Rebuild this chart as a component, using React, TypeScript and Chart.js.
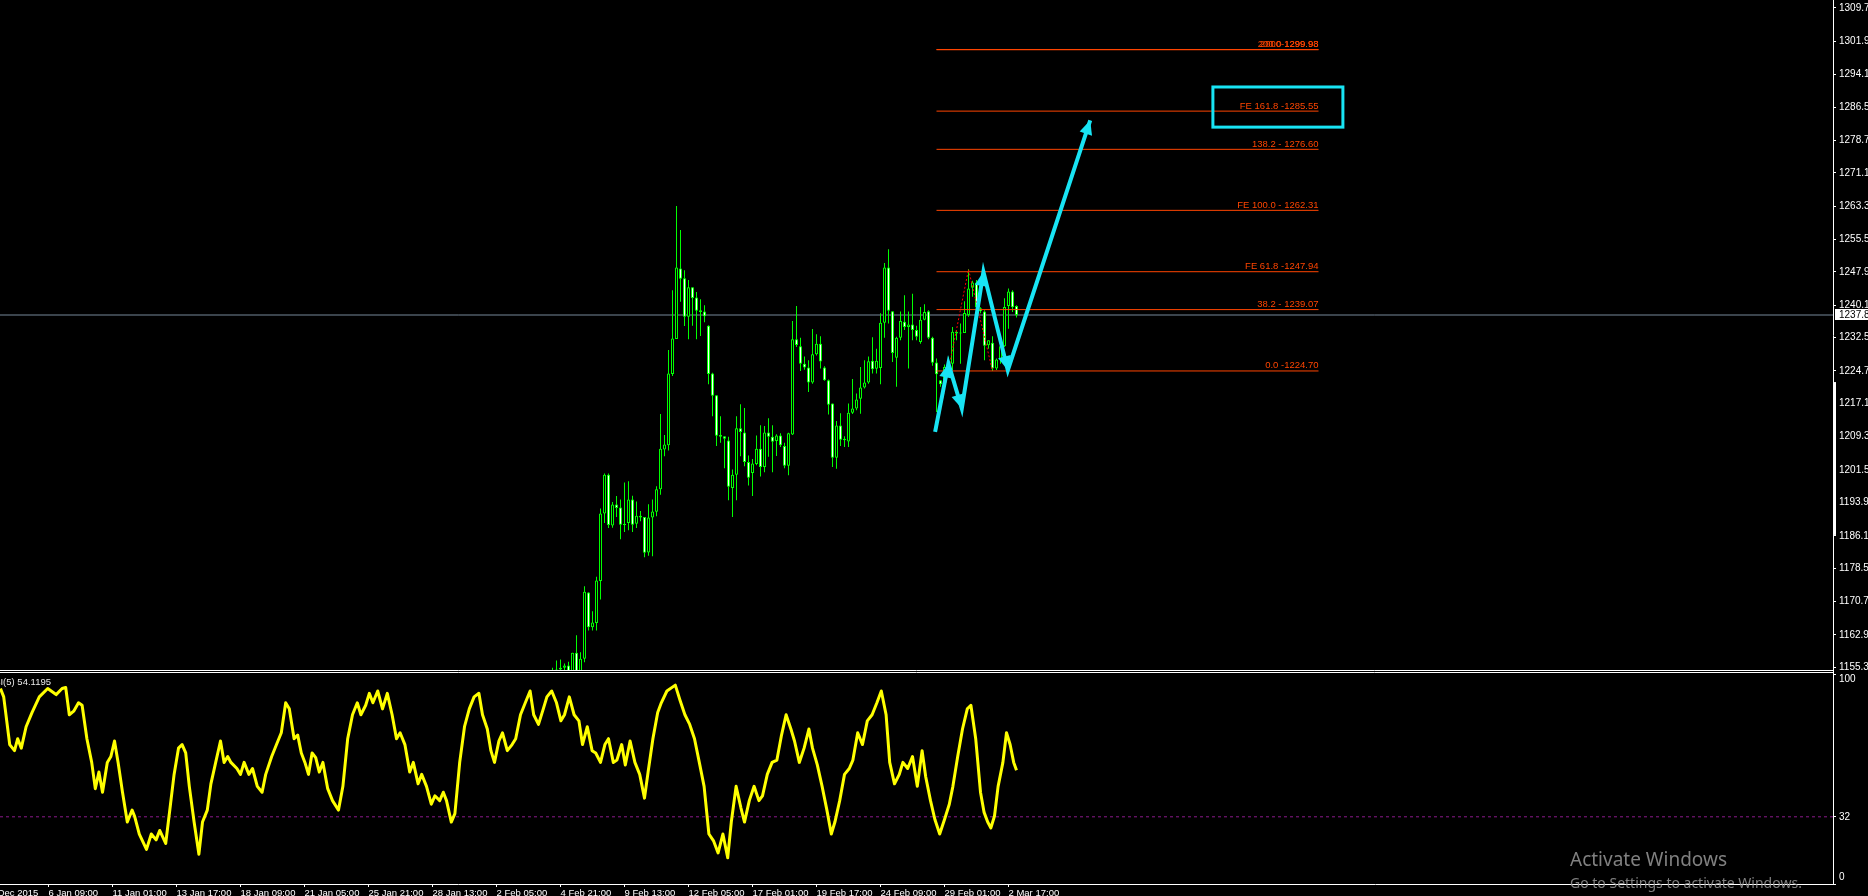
import React, { useEffect, useRef } from 'react';
import { Chart, registerables } from 'chart.js';

Chart.register(...registerables);

// ---------- price candles (H4), first visible bar index ----------
const FIRST_CANDLE_BAR = 138;
const candleOpen = [
  1152.0, 1153.0, 1154.8, 1155.2, 1155.7, 1153.8, 1158.7, 1154.0, 1157.3, 1172.8,
  1164.7, 1165.7, 1175.5, 1191.3, 1200.4, 1188.5, 1193.4, 1192.7, 1188.9, 1189.1,
  1194.6, 1188.9, 1190.8, 1190.5, 1182.2, 1190.4, 1191.7, 1197.0, 1206.3, 1207.3,
  1224.0, 1232.2, 1248.7, 1246.4, 1237.4, 1244.3, 1241.9, 1238.9, 1238.6, 1235.3,
  1224.1, 1219.0, 1209.3, 1209.4, 1208.4, 1197.3, 1200.4, 1211.3, 1210.3, 1203.4,
  1200.8, 1202.9, 1206.5, 1202.2, 1210.3, 1209.3, 1208.3, 1209.6, 1207.1, 1202.5,
  1209.8, 1232.1, 1230.5, 1226.4, 1225.5, 1222.0, 1228.6, 1231.1, 1225.5, 1222.5,
  1217.1, 1204.4, 1211.9, 1208.8, 1208.2, 1214.9, 1215.9, 1218.2, 1220.8, 1222.0,
  1227.1, 1225.2, 1225.4, 1236.0, 1248.9, 1238.7, 1227.8, 1232.5, 1236.2, 1235.0,
  1235.6, 1234.3, 1231.5, 1236.7, 1238.7, 1232.5, 1226.7, 1222.5, 1222.5, 1225.6,
  1226.4, 1233.9, 1233.5, 1233.6, 1237.8, 1244.2, 1245.4, 1239.4, 1238.6, 1230.7,
  1231.3, 1225.3, 1227.4, 1230.5, 1239.9, 1243.3, 1239.9,
];
const candleHigh = [
  1155.2, 1156.9, 1157.1, 1156.2, 1156.6, 1158.7, 1162.8, 1158.8, 1174.3, 1172.9,
  1168.4, 1176.5, 1192.5, 1200.7, 1200.7, 1194.0, 1195.4, 1194.6, 1198.6, 1198.9,
  1195.5, 1194.1, 1191.9, 1190.5, 1193.5, 1194.6, 1197.7, 1214.6, 1209.7, 1229.6,
  1243.6, 1263.3, 1257.7, 1248.3, 1246.0, 1244.3, 1243.2, 1241.5, 1240.1, 1235.4,
  1224.3, 1219.0, 1214.1, 1209.4, 1209.3, 1201.6, 1214.1, 1216.9, 1216.0, 1204.9,
  1204.1, 1209.6, 1212.0, 1211.8, 1213.6, 1212.0, 1209.9, 1210.1, 1207.9, 1210.2,
  1236.4, 1239.9, 1232.5, 1228.1, 1227.2, 1234.5, 1233.3, 1232.8, 1225.8, 1222.7,
  1217.1, 1213.0, 1214.8, 1209.4, 1217.1, 1222.8, 1219.4, 1225.6, 1227.2, 1228.1,
  1232.6, 1229.9, 1238.2, 1250.0, 1253.2, 1238.7, 1232.7, 1238.6, 1242.4, 1238.6,
  1242.8, 1235.3, 1239.7, 1240.3, 1238.9, 1232.7, 1227.6, 1222.5, 1226.2, 1228.0,
  1235.0, 1234.3, 1235.8, 1241.0, 1248.5, 1245.8, 1246.0, 1239.6, 1238.9, 1231.9,
  1232.8, 1227.6, 1230.7, 1241.7, 1244.0, 1243.6, 1240.1,
];
const candleLow = [
  1149.0, 1151.0, 1152.5, 1153.0, 1153.5, 1152.5, 1152.0, 1153.0, 1156.5, 1163.9,
  1163.9, 1163.9, 1171.2, 1189.1, 1187.9, 1188.0, 1190.5, 1185.3, 1187.0, 1187.4,
  1187.0, 1187.9, 1189.5, 1181.1, 1181.4, 1181.3, 1190.7, 1195.7, 1204.7, 1206.1,
  1223.5, 1232.2, 1240.9, 1235.2, 1232.1, 1235.3, 1232.1, 1232.9, 1236.1, 1221.6,
  1214.1, 1207.1, 1207.9, 1201.9, 1194.4, 1190.5, 1194.4, 1204.7, 1202.4, 1197.9,
  1195.4, 1202.6, 1200.0, 1201.0, 1204.6, 1201.0, 1204.8, 1206.9, 1201.9, 1200.3,
  1209.7, 1230.3, 1224.7, 1225.0, 1219.8, 1221.7, 1228.3, 1225.3, 1222.4, 1214.5,
  1202.2, 1201.8, 1207.1, 1206.9, 1206.9, 1214.6, 1215.5, 1214.7, 1220.6, 1221.7,
  1224.1, 1224.1, 1221.6, 1232.5, 1235.8, 1226.8, 1221.0, 1231.9, 1234.3, 1225.3,
  1231.9, 1231.9, 1231.1, 1236.6, 1232.1, 1225.9, 1215.1, 1221.0, 1221.7, 1224.0,
  1224.9, 1231.9, 1226.4, 1233.6, 1237.4, 1242.1, 1238.9, 1238.2, 1227.2, 1229.9,
  1224.7, 1224.9, 1226.4, 1230.3, 1234.6, 1238.5, 1237.2,
];
const candleClose = [
  1153.0, 1154.8, 1155.2, 1155.7, 1154.0, 1158.7, 1154.0, 1157.3, 1173.0, 1164.7,
  1165.8, 1175.6, 1191.3, 1200.4, 1188.6, 1193.4, 1192.6, 1188.7, 1188.6, 1194.6,
  1188.7, 1190.8, 1190.4, 1182.1, 1190.4, 1191.8, 1197.0, 1206.5, 1207.5, 1224.1,
  1232.3, 1248.9, 1246.3, 1237.4, 1244.3, 1241.8, 1238.8, 1238.5, 1237.5, 1224.0,
  1218.9, 1209.5, 1209.7, 1208.8, 1197.6, 1200.4, 1211.3, 1210.4, 1203.4, 1199.7,
  1203.0, 1206.5, 1202.2, 1210.3, 1209.3, 1208.1, 1209.6, 1207.3, 1202.5, 1210.1,
  1232.1, 1230.8, 1226.4, 1225.5, 1222.0, 1228.6, 1231.1, 1226.9, 1222.5, 1216.8,
  1204.4, 1211.9, 1208.6, 1208.5, 1214.9, 1215.9, 1218.0, 1220.8, 1222.0, 1227.0,
  1225.1, 1227.1, 1236.0, 1248.9, 1238.8, 1228.9, 1232.5, 1236.4, 1235.0, 1235.6,
  1234.3, 1232.7, 1236.7, 1238.5, 1232.5, 1226.6, 1223.9, 1221.6, 1225.6, 1226.0,
  1233.9, 1233.5, 1233.6, 1238.3, 1244.0, 1245.4, 1239.6, 1238.7, 1230.6, 1231.9,
  1225.3, 1227.4, 1230.5, 1239.7, 1243.3, 1239.6, 1237.8,
];

// ---------- price axis ----------
const priceTicks = [
  1309.7, 1301.9, 1294.1, 1286.5, 1278.7, 1271.1, 1263.3, 1255.5, 1247.9, 1240.1, 1232.5,
  1224.7, 1217.1, 1209.3, 1201.5, 1193.9, 1186.1, 1178.5, 1170.7, 1162.9, 1155.3,
];
const PRICE_MIN = 1154.67;
const PRICE_MAX = 1311.57;
const currentPrice = 1237.8;
const axisMarkRange = [1186.3, 1222.1];

// ---------- time axis ----------
const BAR_MIN = -0.125;
const BAR_MAX = 458.125;
const timeTickBars = [-4, 12, 28, 44, 60, 76, 92, 108, 124, 140, 156, 172, 188, 204, 220, 236, 252];
const timeTickLabels = [
  '31 Dec 2015', '6 Jan 09:00', '11 Jan 01:00', '13 Jan 17:00', '18 Jan 09:00', '21 Jan 05:00',
  '25 Jan 21:00', '28 Jan 13:00', '2 Feb 05:00', '4 Feb 21:00', '9 Feb 13:00', '12 Feb 05:00',
  '17 Feb 01:00', '19 Feb 17:00', '24 Feb 09:00', '29 Feb 01:00', '2 Mar 17:00',
];

const rsiBars = [
  0, 0.8, 2.3, 3.5, 4.3, 5.2, 6.4, 7.9, 9.7, 11.8, 13.9, 15.4, 16.3, 17.2, 18.3, 19.5, 20.4,
  21.6, 22.8, 23.7, 24.6, 25.5, 26.7, 27.6, 28.5, 29.4, 30.5, 31.7, 32.9, 33.5, 34.7, 36.5,
  37.7, 38.9, 39.8, 41.3, 42.5, 43.4, 44.5, 45.4, 46.3, 47.2, 48.4, 49.6, 50.5, 51.7, 52.6,
  53.8, 55, 55.9, 56.8, 57.6, 59.1, 60, 60.9, 62.1, 63, 64.2, 65.4, 66.3, 67.8, 69, 70.2,
  71.3, 72.2, 73.4, 74.3, 75.2, 76.1, 77, 77.9, 78.8, 79.7, 80.6, 81.8, 83, 84.5, 85.6, 86.8,
  88, 89.2, 90.1, 91.3, 92.2, 93.1, 94.3, 95.5, 96.7, 97.9, 99, 99.9, 101.1, 102.3, 103.2,
  104.4, 105.3, 106.5, 107.7, 108.6, 109.8, 110.7, 111.5, 112.7, 113.6, 114.8, 116, 117.2,
  118.4, 119.6, 120.5, 121.7, 122.6, 123.5, 124.6, 125.5, 126.7, 127.9, 128.8, 130, 131.2,
  132.4, 133.3, 134.5, 135.7, 136.6, 137.8, 139, 140.1, 141, 142.2, 143.4, 144.6, 145.5,
  146.7, 147.9, 148.8, 150, 151.1, 152, 153.2, 154.1, 155.3, 156.2, 157.4, 158.6, 159.8, 161,
  161.9, 163.1, 164.3, 165.2, 166.6, 168.7, 169.9, 171.1, 172.3, 173.5, 174.7, 175.9, 177.1,
  178.3, 179.4, 180.6, 181.8, 182.7, 183.9, 185.1, 186, 187.2, 188.4, 189.6, 190.5, 191.7,
  192.9, 194.1, 195.2, 196.4, 197.6, 198.5, 199.7, 200.9, 202.1, 203, 204.2, 205.4, 206.6,
  207.7, 208.6, 209.8, 211, 212.2, 213.1, 214.3, 215.5, 216.7, 217.9, 219.1, 220.2, 221.4,
  222.3, 223.5, 224.7, 225.6, 226.8, 228, 229.2, 230.4, 231.3, 232.5, 233.6, 234.8, 236,
  237.2, 238.1, 239.3, 240.5, 241.7, 242.6, 243.8, 245, 245.9, 246.8, 247.6, 248.5, 249.4,
  250.6, 251.5, 252.4, 253.3, 254,
];
const rsiValues = [
  93.1, 89.1, 66.4, 63.5, 69.2, 64.7, 74.9, 81.7, 89.1, 93.1, 90.2, 93.1, 93.6, 80.6, 82.3,
  86.3, 85.1, 69.2, 57.9, 45.4, 53.3, 43.7, 57.9, 60.7, 68.1, 57.9, 43.7, 29.5, 35.2, 32.4,
  23.8, 16.5, 23.8, 21.0, 25.5, 19.3, 38.0, 52.2, 64.7, 66.4, 62.4, 46.5, 29.5, 14.2, 29.5,
  35.2, 47.7, 57.9, 68.1, 57.9, 60.7, 57.9, 55.0, 52.2, 57.9, 52.2, 55.0, 46.5, 43.7, 52.2,
  60.7, 66.4, 72.0, 86.3, 83.4, 69.2, 70.9, 62.4, 57.9, 52.2, 62.4, 60.2, 53.3, 57.9, 45.4,
  39.7, 35.2, 46.5, 69.2, 80.6, 86.3, 80.6, 85.1, 90.8, 86.3, 91.9, 83.4, 90.8, 80.6, 69.2,
  72.0, 66.4, 53.3, 57.9, 47.7, 52.2, 46.5, 38.0, 42.0, 39.7, 43.7, 39.7, 29.5, 33.5, 57.9,
  74.9, 83.4, 89.1, 90.8, 80.6, 73.8, 63.5, 57.9, 68.1, 72.0, 63.5, 66.4, 69.2, 80.6, 86.3,
  91.9, 80.6, 76.0, 83.4, 89.1, 91.9, 86.3, 77.7, 80.6, 89.1, 80.6, 77.7, 66.4, 74.9, 63.5,
  62.4, 57.9, 66.4, 69.2, 57.9, 59.0, 66.4, 56.7, 68.1, 57.9, 52.2, 40.9, 53.3, 69.2, 81.7,
  86.3, 91.9, 94.7, 87.4, 80.6, 76.0, 69.2, 57.9, 46.5, 23.8, 20.4, 14.8, 23.8, 12.5, 29.5,
  46.5, 36.3, 29.5, 39.7, 46.5, 39.7, 42.0, 52.2, 57.9, 59.0, 70.4, 80.6, 73.8, 68.1, 57.9,
  64.7, 73.8, 64.7, 56.7, 46.5, 35.2, 23.8, 29.5, 39.7, 52.2, 55.0, 59.0, 72.0, 66.4, 77.7,
  80.6, 86.3, 91.9, 80.6, 57.9, 47.7, 52.2, 57.9, 55.0, 60.7, 46.5, 63.5, 51.1, 39.7, 30.7,
  23.8, 30.7, 38.0, 46.5, 60.7, 73.8, 83.4, 85.1, 69.2, 43.7, 34.1, 29.5, 26.7, 32.4, 46.5,
  57.9, 72.0, 66.4, 57.9, 54.1195,
];
const rsiLevel = 32;
const rsiTicks = [0, 32, 100];
const rsiTitle = 'RSI(5) 54.1195';

// ---------- Fibonacci expansion ----------
const fibLevels = [1224.70, 1239.07, 1247.94, 1262.31, 1276.60, 1285.55, 1299.92, 1299.98];
const fibLabels = [
  '0.0 -1224.70', '38.2 - 1239.07', 'FE 61.8 -1247.94', 'FE 100.0 - 1262.31',
  '138.2 - 1276.60', 'FE 161.8 -1285.55', '200.0 1299.93', '2000-1299.98',
];
const fibStartBar = 234;
const fibEndBar = 329.5;
const fibBaseBars = [234, 242, 248];
const fibBasePrices = [1210.87, 1248.48, 1224.70];

// ---------- hand-drawn projection arrows and highlight box ----------
const arrowBars = [233.65, 236.98, 240.33, 245.73, 251.83, 272.43];
const arrowPrices = [1210.43, 1226.45, 1215.91, 1247.91, 1224.88, 1283.39];
const boxBars = [303.1, 335.6];
const boxPrices = [1281.8, 1291.2];

const GREEN = '#00FF00';
const FIB_COLOR = '#FF4500';
const CYAN = '#18E4F4';
const FONT = 'Liberation Sans';
const FIB_FONT = `9.5px "${FONT}"`;
const AXIS_FONT = `10px "${FONT}"`;

function mainConfig(): any {
  const wicks = candleHigh.map((h, k) => ({ x: FIRST_CANDLE_BAR + k, y: [candleLow[k], h] }));
  const bodies = candleOpen.map((o, k) => ({ x: FIRST_CANDLE_BAR + k, y: [o, candleClose[k]] }));
  const bodyFill = candleOpen.map((o, k) => (candleClose[k] >= o ? '#000000' : '#FFFFFF'));

  const datasets: any[] = [
    {
      type: 'bar', label: 'wick', data: wicks, backgroundColor: GREEN, borderWidth: 0,
      barThickness: 1, grouped: false, inflateAmount: 0, order: 20,
    },
    {
      type: 'bar', label: 'body', data: bodies, backgroundColor: bodyFill, borderColor: GREEN,
      borderWidth: 1, borderSkipped: false, barThickness: 3, grouped: false, inflateAmount: 0,
      minBarLength: 1, order: 19,
    },
    {
      type: 'line', label: 'price', data: [{ x: BAR_MIN, y: currentPrice }, { x: BAR_MAX, y: currentPrice }],
      borderColor: '#778899', borderWidth: 1, pointRadius: 0, order: 25,
    },
  ];
  fibLevels.forEach((lv, i) => {
    datasets.push({
      type: 'line', label: 'fib' + i, data: [{ x: fibStartBar, y: lv }, { x: fibEndBar, y: lv }],
      borderColor: FIB_COLOR, borderWidth: 1, pointRadius: 0, order: 10,
    });
  });
  datasets.push({
    type: 'line', label: 'fibBase',
    data: fibBaseBars.map((b, i) => ({ x: b, y: fibBasePrices[i] })),
    borderColor: '#FF0000', borderWidth: 1, borderDash: [2, 2], pointRadius: 0, order: 8,
  });
  datasets.push({
    type: 'line', label: 'arrows',
    data: arrowBars.map((b, i) => ({ x: b, y: arrowPrices[i] })),
    borderColor: CYAN, borderWidth: 4, pointRadius: 0, tension: 0, order: 1,
    borderJoinStyle: 'miter', clip: false,
  });

  const decor = {
    id: 'mainDecor',
    afterDatasetsDraw(chart: any) {
      const { ctx, scales } = chart;
      const x = scales.x, y = scales.y;
      ctx.save();
      ctx.font = FIB_FONT;
      ctx.fillStyle = FIB_COLOR;
      ctx.textAlign = 'right';
      ctx.textBaseline = 'alphabetic';
      const xr = x.getPixelForValue(fibEndBar);
      fibLevels.forEach((lv, i) => ctx.fillText(fibLabels[i], xr, y.getPixelForValue(lv) - 2.5));
      const idx = chart.data.datasets.findIndex((d: any) => d.label === 'arrows');
      const pts = chart.getDatasetMeta(idx).data;
      ctx.fillStyle = CYAN;
      for (let j = 1; j < pts.length; j++) {
        const a = pts[j - 1], b = pts[j];
        const ang = Math.atan2(b.y - a.y, b.x - a.x);
        const L = 14, W = 6.5;
        ctx.beginPath();
        ctx.moveTo(b.x, b.y);
        ctx.lineTo(b.x - L * Math.cos(ang) + W * Math.sin(ang), b.y - L * Math.sin(ang) - W * Math.cos(ang));
        ctx.lineTo(b.x - L * Math.cos(ang) - W * Math.sin(ang), b.y - L * Math.sin(ang) + W * Math.cos(ang));
        ctx.closePath();
        ctx.fill();
      }
      ctx.strokeStyle = CYAN;
      ctx.lineWidth = 3;
      const bx0 = x.getPixelForValue(boxBars[0]), bx1 = x.getPixelForValue(boxBars[1]);
      const by0 = y.getPixelForValue(boxPrices[1]), by1 = y.getPixelForValue(boxPrices[0]);
      ctx.strokeRect(bx0, by0, bx1 - bx0, by1 - by0);
      ctx.restore();
    },
    afterDraw(chart: any) {
      const { ctx, scales } = chart;
      const y = scales.y;
      const right = chart.chartArea.right;
      ctx.save();
      const m0 = y.getPixelForValue(axisMarkRange[1]);
      const m1 = y.getPixelForValue(axisMarkRange[0]);
      ctx.fillStyle = '#FFFFFF';
      ctx.fillRect(right, m0, 3, m1 - m0);
      const py = y.getPixelForValue(currentPrice);
      ctx.fillRect(right + 2, Math.round(py) - 6, 40, 11);
      ctx.fillStyle = '#000000';
      ctx.font = AXIS_FONT;
      ctx.textAlign = 'left';
      ctx.textBaseline = 'middle';
      ctx.fillText(currentPrice.toFixed(1), right + 6, py);
      ctx.restore();
    },
  };

  return {
    type: 'bar',
    data: { datasets },
    options: {
      responsive: false,
      maintainAspectRatio: false,
      devicePixelRatio: 1,
      animation: false,
      events: [],
      layout: { padding: 0 },
      plugins: { legend: { display: false }, tooltip: { enabled: false } },
      scales: {
        x: { type: 'linear', display: false, min: BAR_MIN, max: BAR_MAX, offset: false },
        y: {
          type: 'linear', position: 'right', min: PRICE_MIN, max: PRICE_MAX, beginAtZero: false,
          afterBuildTicks: (s: any) => { s.ticks = priceTicks.map((v) => ({ value: v })); },
          afterFit: (s: any) => { s.width = 35; s.paddingTop = 0; s.paddingBottom = 0; },
          ticks: {
            color: '#FFFFFF', font: { family: FONT, size: 10 }, padding: 3,
            callback: (v: any) => Number(v).toFixed(1),
          },
          grid: { display: true, drawOnChartArea: false, drawTicks: true, tickLength: 3, color: '#FFFFFF' },
          border: { display: true, color: '#FFFFFF', width: 1 },
        },
      },
    },
    plugins: [decor],
  };
}

function rsiConfig(): any {
  const decor = {
    id: 'rsiDecor',
    beforeDraw(chart: any) {
      const { ctx, chartArea } = chart;
      ctx.save();
      ctx.strokeStyle = '#FFFFFF';
      ctx.lineWidth = 1;
      ctx.beginPath();
      ctx.moveTo(0, 0.5); ctx.lineTo(chartArea.right, 0.5);
      ctx.moveTo(0, 2.5); ctx.lineTo(chartArea.right, 2.5);
      ctx.moveTo(chartArea.right + 0.5, 0); ctx.lineTo(chartArea.right + 0.5, chartArea.top);
      ctx.stroke();
      ctx.restore();
    },
    afterDraw(chart: any) {
      const { ctx, chartArea, scales } = chart;
      const y = scales.y;
      ctx.save();
      ctx.font = AXIS_FONT;
      ctx.fillStyle = '#FFFFFF';
      ctx.textAlign = 'left';
      ctx.textBaseline = 'middle';
      rsiTicks.forEach((v) => {
        let py = y.getPixelForValue(v);
        py = Math.max(chartArea.top + 5, Math.min(chartArea.bottom - 7, py));
        ctx.fillText(String(v), chartArea.right + 6, py);
      });
      ctx.font = FIB_FONT;
      ctx.textAlign = 'right';
      ctx.fillStyle = '#E8E8E8';
      ctx.fillText(rsiTitle, 51, chartArea.top + 8);
      ctx.textAlign = 'left';
      ctx.textBaseline = 'alphabetic';
      ctx.fillStyle = 'rgba(150,150,150,0.85)';
      ctx.font = '19px "Noto Sans"';
      ctx.fillText('Activate Windows', 1570, 196);
      ctx.font = '14px "Noto Sans"';
      ctx.fillText('Go to Settings to activate Windows.', 1570, 218);
      ctx.restore();
    },
  };

  return {
    type: 'line',
    data: {
      datasets: [
        {
          label: 'RSI', data: rsiBars.map((b, i) => ({ x: b, y: rsiValues[i] })),
          borderColor: '#FFFF00', borderWidth: 3, pointRadius: 0, tension: 0, borderJoinStyle: 'round',
          order: 1,
        },
        {
          label: 'level', data: [{ x: BAR_MIN, y: rsiLevel }, { x: BAR_MAX, y: rsiLevel }],
          borderColor: '#8B1A8B', borderWidth: 1, borderDash: [3, 3], pointRadius: 0, order: 2,
        },
      ],
    },
    options: {
      responsive: false,
      maintainAspectRatio: false,
      devicePixelRatio: 1,
      animation: false,
      events: [],
      layout: { padding: { top: 4, left: 0, right: 0, bottom: 0 } },
      plugins: { legend: { display: false }, tooltip: { enabled: false } },
      scales: {
        x: {
          type: 'linear', position: 'bottom', min: BAR_MIN, max: BAR_MAX, offset: false,
          afterBuildTicks: (s: any) => { s.ticks = timeTickBars.map((v) => ({ value: v })); },
          afterFit: (s: any) => { s.height = 12; s.paddingLeft = 0; s.paddingRight = 0; },
          ticks: {
            color: '#FFFFFF', font: { family: FONT, size: 9.5 }, align: 'start', padding: 1,
            autoSkip: false, maxRotation: 0, minRotation: 0,
            callback: (_v: any, i: number) => timeTickLabels[i],
          },
          grid: { display: true, drawOnChartArea: false, drawTicks: true, tickLength: 3, color: '#FFFFFF' },
          border: { display: true, color: '#FFFFFF', width: 1 },
        },
        y: {
          type: 'linear', position: 'right', min: 0, max: 100,
          afterBuildTicks: (s: any) => { s.ticks = rsiTicks.map((v) => ({ value: v })); },
          afterFit: (s: any) => { s.width = 35; s.paddingTop = 0; s.paddingBottom = 0; },
          ticks: { display: false },
          grid: { display: true, drawOnChartArea: false, drawTicks: true, tickLength: 3, color: '#FFFFFF' },
          border: { display: true, color: '#FFFFFF', width: 1 },
        },
      },
    },
    plugins: [decor],
  };
}

export default function App() {
  const mainRef = useRef<HTMLCanvasElement>(null);
  const rsiRef = useRef<HTMLCanvasElement>(null);

  useEffect(() => {
    document.body.style.margin = '0';
    document.body.style.background = '#000000';
    const main = new Chart(mainRef.current as HTMLCanvasElement, mainConfig());
    const rsi = new Chart(rsiRef.current as HTMLCanvasElement, rsiConfig());
    return () => {
      main.destroy();
      rsi.destroy();
    };
  }, []);

  return (
    <div style={{ position: 'relative', width: 1868, height: 896, background: '#000000', overflow: 'hidden' }}>
      <canvas ref={mainRef} width={1868} height={670}
        style={{ position: 'absolute', left: 0, top: 0, width: 1868, height: 670 }} />
      <canvas ref={rsiRef} width={1868} height={226}
        style={{ position: 'absolute', left: 0, top: 670, width: 1868, height: 226 }} />
    </div>
  );
}
